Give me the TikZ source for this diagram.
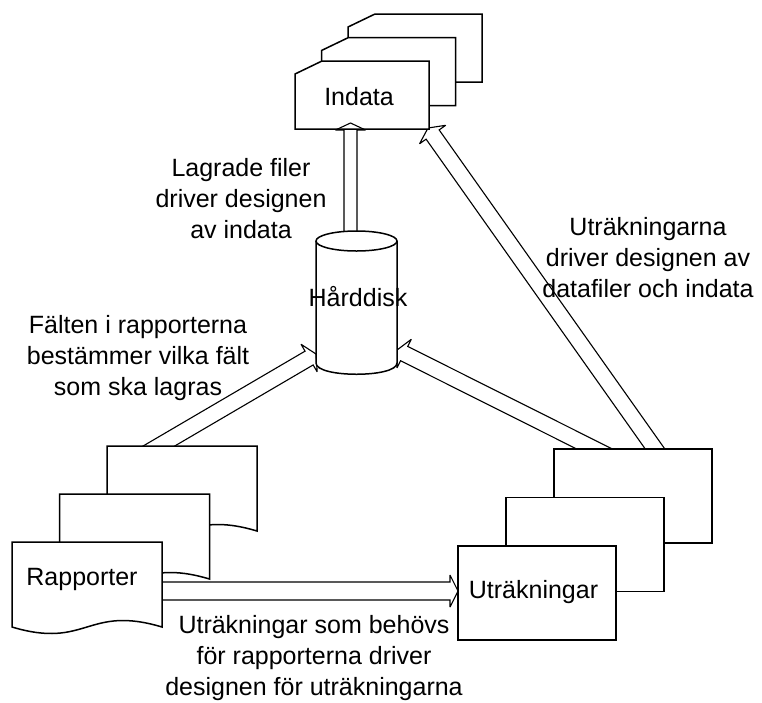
\documentclass[tikz,border=0pt]{standalone}
\usepackage{fontspec}
\setmainfont{Liberation Sans}
\usetikzlibrary{calc}

\tikzset{
  card/.style={draw=black, line width=1.5pt, fill=white, line join=miter},
  arrowline/.style={draw=black, line width=1.1pt, line join=miter, miter limit=3},
  txt/.style={font=\fontsize{25}{31}\selectfont, inner sep=0pt, align=center},
}

% Outlined block arrow: start, tip, shaft half width, head half width, head length
\newcommand\blockarrow[5]{%
  \coordinate (ba-h) at ($(#2)!#5!(#1)$);
  \draw[arrowline] ($(#1)!#3!90:(#2)$) -- ($(ba-h)!#3!-90:(#1)$)
    -- ($(ba-h)!#4!-90:(#1)$) -- (#2) -- ($(ba-h)!#4!90:(#1)$)
    -- ($(ba-h)!#3!90:(#1)$) -- ($(#1)!#3!-90:(#2)$);
}

% Card with a cut top-left corner
\newcommand\inputcard[2]{%
  \begin{scope}[shift={(#1,#2)}]
    \draw[card] (0,13) -- (27,0) -- (134,0) -- (134,68) -- (0,68) -- cycle;
  \end{scope}
}
% Document sheet with a wavy lower edge
\newcommand\docsheet[2]{%
  \begin{scope}[shift={(#1,#2)}]
    \draw[card] (0,0) -- (150,0) -- (150,85)
      .. controls (75,62.5) and (75,107.5) .. (0,85) -- cycle;
  \end{scope}
}
% Plain rectangular sheet
\newcommand\plainsheet[2]{%
  \begin{scope}[shift={(#1,#2)}]
    \draw[card] (0,0) rectangle (158,94);
  \end{scope}
}

\begin{document}
\begin{tikzpicture}[x=1pt,y=-1pt]
\fill[white] (0,0) rectangle (762,702);
\useasboundingbox (0,0) rectangle (762,702);

% arrow end points
\coordinate (a2s) at (669.5,469.4); \coordinate (a2t) at (428,128);
\coordinate (a3s) at (616.9,460.2); \coordinate (a3t) at (397,350);
\coordinate (a4s) at (137.4,458.6); \coordinate (a4t) at (316,354);
\coordinate (a5s) at (150,591);     \coordinate (a5t) at (458,591);
\coordinate (a1s) at (350.5,250);   \coordinate (a1t) at (350.5,123);

% connectors that start behind the stacks
\blockarrow{a2s}{a2t}{8pt}{16pt}{8pt}
\blockarrow{a3s}{a3t}{8pt}{16pt}{8pt}
\blockarrow{a4s}{a4t}{8pt}{16pt}{8pt}
\blockarrow{a5s}{a5t}{9pt}{16pt}{8pt}

% report stack
\docsheet{107}{446}
\docsheet{59.5}{494}
\docsheet{12}{542}

% calculation stack
\plainsheet{554}{449}
\plainsheet{506}{497.5}
\plainsheet{458}{546}

% input stack
\inputcard{348}{14}
\inputcard{321.5}{37.5}
\inputcard{295}{61}

% disk to input
\blockarrow{a1s}{a1t}{6.5pt}{15pt}{7pt}

% hard disk cylinder
\draw[card] (316,241) -- (316,363) .. controls (316,378) and (397,378) .. (397,363) -- (397,241);
\draw[card] (356.5,241) ellipse [x radius=40.5, y radius=10];

% labels
\node[txt, anchor=base] (indata) at (359,105) {Indata};
\node[txt, anchor=base] (hd) at (358,306) {Hårddisk};
\node[txt, anchor=base] (rap) at (82,585) {Rapporter};
\node[txt, anchor=base] (utr) at (533.5,598) {Uträkningar};
\node[txt, anchor=north] (lbl1) at (241,157.8) {Lagrade filer\\driver designen\\av indata};
\node[txt, anchor=north] (lbl2) at (138,314.8) {Fälten i rapporterna\\bestämmer vilka fält\\som ska lagras};
\node[txt, anchor=north] (lbl3) at (648,216.8) {Uträkningarna\\driver designen av\\datafiler och indata};
\node[txt, anchor=north] (lbl4) at (314,615.5) {Uträkningar som behövs\\för rapporterna driver\\designen för uträkningarna};
\end{tikzpicture}
\end{document}
